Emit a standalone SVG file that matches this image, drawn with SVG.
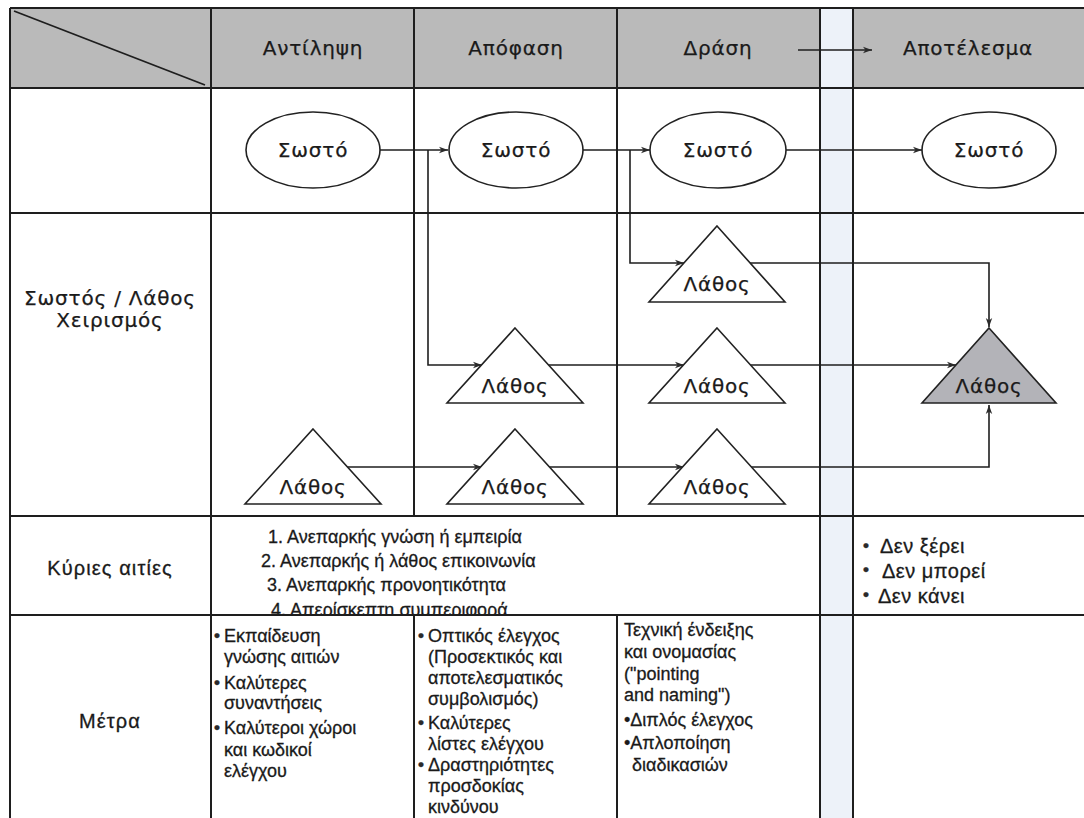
<svg xmlns="http://www.w3.org/2000/svg" width="1084" height="818" viewBox="0 0 1084 818">
  <defs>
    <marker id="arrow" markerWidth="10" markerHeight="8" refX="9" refY="4" orient="auto" markerUnits="userSpaceOnUse">
      <path d="M0,0.8 L9,4 L0,7.2 L2.5,4 Z" fill="#2a2a2a"/>
    </marker>
    <clipPath id="causesClip">
      <rect x="211" y="516" width="609" height="98"/>
    </clipPath>
  </defs>
  <style>
    .grid{stroke:#1e1e1e;stroke-width:2;fill:none}
    .conn{stroke:#1e1e1e;stroke-width:1.6;fill:none}
    .node{fill:#ffffff;stroke:#222222;stroke-width:1.6}
    .nodeDark{fill:#b3b3b8;stroke:#222222;stroke-width:1.6}
    .geo{font-family:"DejaVu Sans",sans-serif;font-size:20px;letter-spacing:0.8px;fill:#1a1a1a;stroke:#1a1a1a;stroke-width:0.25;text-anchor:middle}
    .txt{font-family:"Liberation Sans",Arial,sans-serif;font-size:18px;fill:#1a1a1a;stroke:#1a1a1a;stroke-width:0.3}
    .label{font-size:20px;letter-spacing:1.1px;text-anchor:middle}
    .big{font-size:20px;letter-spacing:0.5px}
    .dot{font-family:"Liberation Sans",Arial,sans-serif;font-size:17px;font-weight:bold;fill:#2a2a2a}
  </style>

  <!-- background, header band and separator strip -->
  <rect x="0" y="0" width="1084" height="818" fill="#ffffff"/>
  <rect x="10" y="8" width="1074" height="80" fill="#bababa"/>
  <rect x="820" y="8" width="33" height="810" fill="#edf2f9"/>

  <!-- table grid -->
  <g id="grid" class="grid">
    <line x1="10" y1="8" x2="1084" y2="8"/>
    <line x1="10" y1="88" x2="1084" y2="88"/>
    <line x1="10" y1="213" x2="1084" y2="213"/>
    <line x1="10" y1="516" x2="1084" y2="516"/>
    <line x1="10" y1="615" x2="1084" y2="615"/>
    <line x1="10" y1="8" x2="10" y2="818"/>
    <line x1="211" y1="8" x2="211" y2="818"/>
    <line x1="414" y1="8" x2="414" y2="516"/>
    <line x1="414" y1="615" x2="414" y2="818"/>
    <line x1="617" y1="8" x2="617" y2="516"/>
    <line x1="617" y1="615" x2="617" y2="818"/>
    <line x1="820" y1="8" x2="820" y2="818"/>
    <line x1="853" y1="8" x2="853" y2="818"/>
    <line x1="14" y1="11" x2="205" y2="85" stroke-width="1.8"/>
  </g>

  <!-- column headers -->
  <g id="headers">
    <text class="geo" x="313" y="55">Αντίληψη</text>
    <text class="geo" x="516" y="55">Απόφαση</text>
    <text class="geo" x="718" y="55">Δράση</text>
    <text class="geo" x="968" y="55">Αποτέλεσμα</text>
    <line class="conn" x1="798" y1="50" x2="872" y2="50" stroke-width="2.2" marker-end="url(#arrow)"/>
  </g>

  <!-- row labels -->
  <g id="row-labels">
    <text class="geo" x="110" y="305">Σωστός / Λάθος</text>
    <text class="geo" x="110" y="327">Χειρισμός</text>
    <text class="txt label" x="110" y="575">Κύριες αιτίες</text>
    <text class="txt label" x="110" y="728">Μέτρα</text>
  </g>

  <!-- connectors -->
  <g id="connectors" class="conn">
    <path d="M380,150 H448" marker-end="url(#arrow)"/>
    <path d="M583,150 H650" marker-end="url(#arrow)"/>
    <path d="M786,150 H922" marker-end="url(#arrow)"/>
    <path d="M428,150 V365 H482" marker-end="url(#arrow)"/>
    <path d="M630,150 V263 H684" marker-end="url(#arrow)"/>
    <path d="M347,467 H482" marker-end="url(#arrow)"/>
    <path d="M548,467 H684" marker-end="url(#arrow)"/>
    <path d="M548,365 H684" marker-end="url(#arrow)"/>
    <path d="M750,263 H989 V327" marker-end="url(#arrow)"/>
    <path d="M750,365 H956" marker-end="url(#arrow)"/>
    <path d="M750,467 H989 V405" marker-end="url(#arrow)"/>
  </g>

  <!-- correct-handling nodes -->
  <g id="ok-perception">
    <ellipse class="node" cx="313" cy="150" rx="67" ry="38"/>
    <text class="geo" x="313" y="157">Σωστό</text>
  </g>
  <g id="ok-decision">
    <ellipse class="node" cx="516" cy="150" rx="67" ry="38"/>
    <text class="geo" x="516" y="157">Σωστό</text>
  </g>
  <g id="ok-action">
    <ellipse class="node" cx="718" cy="150" rx="68" ry="38"/>
    <text class="geo" x="718" y="157">Σωστό</text>
  </g>
  <g id="ok-result">
    <ellipse class="node" cx="989" cy="150" rx="67" ry="38"/>
    <text class="geo" x="989" y="157">Σωστό</text>
  </g>

  <!-- error nodes -->
  <g id="err-perception">
    <polygon class="node" points="313,429 381,504 245,504"/>
    <text class="geo" x="313" y="494">Λάθος</text>
  </g>
  <g id="err-decision-1">
    <polygon class="node" points="515,328 583,403 447,403"/>
    <text class="geo" x="515" y="393">Λάθος</text>
  </g>
  <g id="err-decision-2">
    <polygon class="node" points="515,429 583,504 447,504"/>
    <text class="geo" x="515" y="494">Λάθος</text>
  </g>
  <g id="err-action-1">
    <polygon class="node" points="717,226 785,302 649,302"/>
    <text class="geo" x="717" y="291">Λάθος</text>
  </g>
  <g id="err-action-2">
    <polygon class="node" points="717,328 785,403 649,403"/>
    <text class="geo" x="717" y="393">Λάθος</text>
  </g>
  <g id="err-action-3">
    <polygon class="node" points="717,429 785,504 649,504"/>
    <text class="geo" x="717" y="494">Λάθος</text>
  </g>
  <g id="err-result">
    <polygon class="nodeDark" points="989,328 1056,403 922,403"/>
    <text class="geo" x="989" y="393">Λάθος</text>
  </g>

  <!-- main causes -->
  <g id="causes" class="txt" clip-path="url(#causesClip)">
    <text x="268" y="543">1. Ανεπαρκής γνώση ή εμπειρία</text>
    <text x="261" y="567">2. Ανεπαρκής ή λάθος επικοινωνία</text>
    <text x="267" y="591">3. Ανεπαρκής προνοητικότητα</text>
    <text x="271" y="616">4. Απερίσκεπτη συμπεριφορά</text>
  </g>
  <g id="outcomes" class="txt">
    <text class="dot" x="863" y="551">•</text>
    <text class="big" x="880" y="553">Δεν ξέρει</text>
    <text class="dot" x="863" y="575">•</text>
    <text class="big" x="882" y="578">Δεν μπορεί</text>
    <text class="dot" x="863" y="600">•</text>
    <text class="big" x="878" y="603">Δεν κάνει</text>
  </g>

  <!-- countermeasures -->
  <g id="measures-perception" class="txt">
    <text class="dot" x="214" y="641">•</text>
    <text x="224" y="642">Εκπαίδευση</text>
    <text x="224" y="663">γνώσης αιτιών</text>
    <text class="dot" x="214" y="688">•</text>
    <text x="224" y="689">Καλύτερες</text>
    <text x="224" y="709">συναντήσεις</text>
    <text class="dot" x="214" y="733">•</text>
    <text x="224" y="734">Καλύτεροι χώροι</text>
    <text x="224" y="756">και κωδικοί</text>
    <text x="224" y="777">ελέγχου</text>
  </g>
  <g id="measures-decision" class="txt">
    <text class="dot" x="418" y="641">•</text>
    <text x="428" y="642">Οπτικός έλεγχος</text>
    <text x="428" y="663">(Προσεκτικός και</text>
    <text x="428" y="684">αποτελεσματικός</text>
    <text x="428" y="705">συμβολισμός)</text>
    <text class="dot" x="418" y="728">•</text>
    <text x="428" y="729">Καλύτερες</text>
    <text x="428" y="750">λίστες ελέγχου</text>
    <text class="dot" x="418" y="770">•</text>
    <text x="428" y="771">Δραστηριότητες</text>
    <text x="428" y="792">προσδοκίας</text>
    <text x="428" y="813">κινδύνου</text>
  </g>
  <g id="measures-action" class="txt">
    <text x="624" y="636">Τεχνική ένδειξης</text>
    <text x="624" y="658">και ονομασίας</text>
    <text x="624" y="680">("pointing</text>
    <text x="624" y="701">and naming")</text>
    <text x="624" y="726">•Διπλός έλεγχος</text>
    <text x="624" y="749">•Απλοποίηση</text>
    <text x="632" y="771">διαδικασιών</text>
  </g>
</svg>
